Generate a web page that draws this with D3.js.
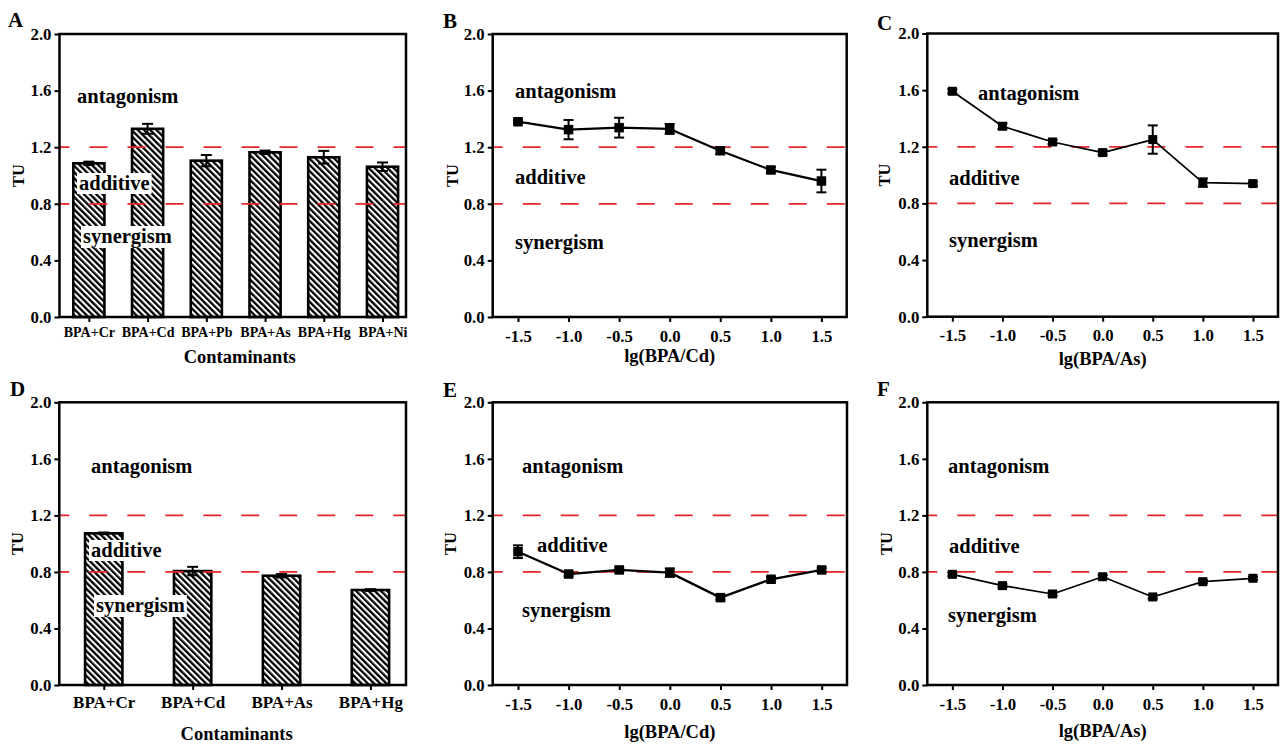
<!DOCTYPE html>
<html>
<head>
<meta charset="utf-8">
<script src="https://cdn.jsdelivr.net/npm/d3@7"></script>
<style>
  body { margin: 0; background: #fff; }
  svg text { font-family: "Liberation Serif", "Times New Roman", serif; font-weight: bold; fill: #000; }
</style>
</head>
<body>
<svg id="fig" width="1281" height="746"></svg>
<script>
// ---- data ----
const catsA = ["BPA+Cr", "BPA+Cd", "BPA+Pb", "BPA+As", "BPA+Hg", "BPA+Ni"];
const tuA   = [1.086, 1.33, 1.105, 1.164, 1.129, 1.062];
const errA  = [0.012, 0.035, 0.04, 0.012, 0.045, 0.03];

const catsD = ["BPA+Cr", "BPA+Cd", "BPA+As", "BPA+Hg"];
const tuD   = [1.073, 0.806, 0.773, 0.672];
const errD  = [0.006, 0.03, 0.012, 0.006];

const ratios = [-1.5, -1.0, -0.5, 0.0, 0.5, 1.0, 1.5];
const tuB  = [1.38, 1.324, 1.338, 1.329, 1.175, 1.039, 0.961];
const errB = [0.012, 0.068, 0.07, 0.035, 0.022, 0.02, 0.08];
const tuC  = [1.592, 1.345, 1.234, 1.159, 1.251, 0.947, 0.94];
const errC = [0.015, 0.02, 0.015, 0.015, 0.1, 0.03, 0.015];
const tuE  = [0.943, 0.785, 0.814, 0.795, 0.618, 0.748, 0.814];
const errE = [0.045, 0.015, 0.015, 0.03, 0.015, 0.015, 0.015];
const tuF  = [0.783, 0.703, 0.644, 0.766, 0.623, 0.731, 0.755];
const errF = [0.012, 0.012, 0.012, 0.012, 0.012, 0.012, 0.012];

const yTicks = [0, 0.4, 0.8, 1.2, 1.6, 2.0];
const xTicks = [-1.5, -1.0, -0.5, 0.0, 0.5, 1.0, 1.5];
const thresholds = [0.8, 1.2];
const zones = ["antagonism", "additive", "synergism"];

const red = "#e8262b";
const svg = d3.select("#fig");

// hatch pattern for the bars
svg.append("defs").append("pattern")
  .attr("id", "hatch")
  .attr("patternUnits", "userSpaceOnUse")
  .attr("width", 4.4).attr("height", 4.4)
  .attr("patternTransform", "rotate(-45)")
  .call(p => {
    p.append("rect").attr("width", 4.4).attr("height", 4.4).attr("fill", "#fff");
    p.append("rect").attr("width", 2.3).attr("height", 4.4).attr("fill", "#000");
  });

const panels = [
  { id: "A", kind: "bar", cats: catsA, vals: tuA, errs: errA, L: 59.5, R: 406, T: 34, B: 317,
    barFrac: 0.53, catSize: 14, catDy: 20, xTitle: "Contaminants", xTitleDx: 7, xTitleDy: 46,
    letter: [8, 27], tuX: 18,
    zoneAt: [[77, 103, false], [79, 190, true], [83, 243, true]] },
  { id: "B", kind: "line", vals: tuB, errs: errB, L: 492.7, R: 846.7, T: 34, B: 317, lw: 2.3, ms: 9.5,
    xTitle: "lg(BPA/Cd)", xTitleDx: 0, xTitleDy: 45, letter: [443, 28], tuX: 452,
    zoneAt: [[515, 98, false], [515, 184, false], [515, 249, false]] },
  { id: "C", kind: "line", vals: tuC, errs: errC, L: 927.3, R: 1278, T: 33.5, B: 316.7, lw: 1.7, ms: 9,
    xTitle: "lg(BPA/As)", xTitleDx: 0, xTitleDy: 48, letter: [877, 30], tuX: 884,
    zoneAt: [[978, 100, false], [949, 185, false], [949, 247, false]] },
  { id: "D", kind: "bar", cats: catsD, vals: tuD, errs: errD, L: 59.3, R: 406, T: 402.3, B: 685,
    barFrac: 0.42, catSize: 17, catDy: 23, xTitle: "Contaminants", xTitleDx: 4, xTitleDy: 55,
    letter: [10, 396], tuX: 17,
    zoneAt: [[91, 473, false], [91, 557, true], [96, 612, true]] },
  { id: "E", kind: "line", vals: tuE, errs: errE, L: 492.7, R: 847, T: 402.3, B: 685, lw: 2.3, ms: 9.5,
    xTitle: "lg(BPA/Cd)", xTitleDx: 0, xTitleDy: 53, letter: [443, 397], tuX: 450,
    zoneAt: [[522, 473, false], [537, 552, false], [522, 617, false]] },
  { id: "F", kind: "line", vals: tuF, errs: errF, L: 927.3, R: 1278, T: 402.3, B: 685, lw: 1.7, ms: 9,
    xTitle: "lg(BPA/As)", xTitleDx: 0, xTitleDy: 52, letter: [877, 396], tuX: 886,
    zoneAt: [[948, 473, false], [949, 553, false], [948, 622, false]] }
];

panels.forEach(p => {
  const g = svg.append("g");
  const y = d3.scaleLinear().domain([0, 2]).range([p.B, p.T]);
  let x;
  if (p.kind === "bar") {
    x = d3.scaleLinear().domain([-0.5, p.cats.length - 0.6]).range([p.L, p.R]);
  } else {
    x = d3.scaleLinear().domain([-1.75, 1.75]).range([p.L, p.R]);
  }

  // y axis
  const yAxis = g.append("g").attr("transform", `translate(${p.L},0)`)
    .call(d3.axisLeft(y).tickValues(yTicks).tickFormat(d3.format(".1f")).tickSize(5).tickPadding(3));
  yAxis.select(".domain").remove();
  yAxis.selectAll("line").attr("stroke", "#000").attr("stroke-width", 2);
  yAxis.selectAll("text").style("font-size", "16.8px").attr("font-family", null);

  // x axis
  if (p.kind === "bar") {
    const xa = g.append("g").attr("transform", `translate(0,${p.B})`)
      .call(d3.axisBottom(x).tickValues(d3.range(p.cats.length)).tickFormat(i => p.cats[i]).tickSize(5).tickPadding(0));
    xa.select(".domain").remove();
    xa.selectAll("line").attr("stroke", "#000").attr("stroke-width", 2);
    xa.selectAll("text").style("font-size", p.catSize + "px").attr("dy", null).attr("y", p.catDy).attr("font-family", null);
  } else {
    const xa = g.append("g").attr("transform", `translate(0,${p.B})`)
      .call(d3.axisBottom(x).tickValues(xTicks).tickFormat(d3.format(".1f")).tickSize(5).tickPadding(0));
    xa.select(".domain").remove();
    xa.selectAll("line").attr("stroke", "#000").attr("stroke-width", 2);
    xa.selectAll("text").style("font-size", "16.8px").attr("dy", null).attr("y", 24.5).attr("font-family", null)
      .text(d => d === 0 ? "0.0" : d3.format(".1f")(d).replace("−", "-"));
  }

  // marks
  if (p.kind === "bar") {
    const step = x(1) - x(0);
    const bw = step * p.barFrac;
    g.selectAll("rect.bar").data(p.vals).join("rect")
      .attr("class", "bar")
      .attr("x", (d, i) => x(i) - bw / 2)
      .attr("y", d => y(d))
      .attr("width", bw)
      .attr("height", d => y(0) - y(d))
      .attr("fill", "url(#hatch)")
      .attr("stroke", "#000").attr("stroke-width", 2.6);
    p.vals.forEach((v, i) => {
      const cx = x(i), e = p.errs[i];
      g.append("line").attr("x1", cx).attr("x2", cx).attr("y1", y(v - e)).attr("y2", y(v + e))
        .attr("stroke", "#000").attr("stroke-width", 2);
      [v - e, v + e].forEach(t => g.append("line").attr("x1", cx - 5.5).attr("x2", cx + 5.5)
        .attr("y1", y(t)).attr("y2", y(t)).attr("stroke", "#000").attr("stroke-width", 2));
    });
  }

  // threshold lines
  thresholds.forEach(t => {
    g.append("line").attr("x1", p.L).attr("x2", p.R).attr("y1", y(t)).attr("y2", y(t))
      .attr("stroke", red).attr("stroke-width", 1.8).attr("stroke-dasharray", "18,20").attr("stroke-dashoffset", 8);
  });

  if (p.kind === "line") {
    const line = d3.line().x((d, i) => x(ratios[i])).y(d => y(d));
    g.append("path").datum(p.vals).attr("d", line)
      .attr("fill", "none").attr("stroke", "#000").attr("stroke-width", p.lw).attr("stroke-linejoin", "round");
    p.vals.forEach((v, i) => {
      const cx = x(ratios[i]), e = p.errs[i];
      g.append("line").attr("x1", cx).attr("x2", cx).attr("y1", y(v - e)).attr("y2", y(v + e))
        .attr("stroke", "#000").attr("stroke-width", 2);
      [v - e, v + e].forEach(t => g.append("line").attr("x1", cx - 5).attr("x2", cx + 5)
        .attr("y1", y(t)).attr("y2", y(t)).attr("stroke", "#000").attr("stroke-width", 2));
    });
    g.selectAll("rect.pt").data(p.vals).join("rect")
      .attr("class", "pt")
      .attr("x", (d, i) => x(ratios[i]) - p.ms / 2)
      .attr("y", d => y(d) - p.ms / 2)
      .attr("width", p.ms).attr("height", p.ms)
      .attr("fill", "#000");
  }

  // zone labels
  zones.forEach((z, i) => {
    const [tx, ty, boxed] = p.zoneAt[i];
    const bg = g.append("rect").attr("fill", "#fff");
    const t = g.append("text").attr("x", tx).attr("y", ty).style("font-size", "20.5px").text(z);
    if (boxed) {
      const bb = t.node().getBBox();
      bg.attr("x", bb.x - 2).attr("y", bb.y + 1).attr("width", bb.width + 4).attr("height", bb.height - 1);
    } else {
      bg.remove();
    }
  });

  // frame
  g.append("rect").attr("x", p.L).attr("y", p.T).attr("width", p.R - p.L).attr("height", p.B - p.T)
    .attr("fill", "none").attr("stroke", "#000").attr("stroke-width", 2.5);

  // titles
  g.append("text").attr("x", (p.L + p.R) / 2 + p.xTitleDx).attr("y", p.B + p.xTitleDy)
    .attr("text-anchor", "middle").style("font-size", "18.5px").text(p.xTitle);
  g.append("text").attr("transform", `translate(${p.tuX + 6},${(p.T + p.B) / 2}) rotate(-90)`)
    .attr("text-anchor", "middle").style("font-size", "16.5px").text("TU");
  g.append("text").attr("x", p.letter[0]).attr("y", p.letter[1]).style("font-size", "21px").text(p.id);
});
</script>
</body>
</html>
